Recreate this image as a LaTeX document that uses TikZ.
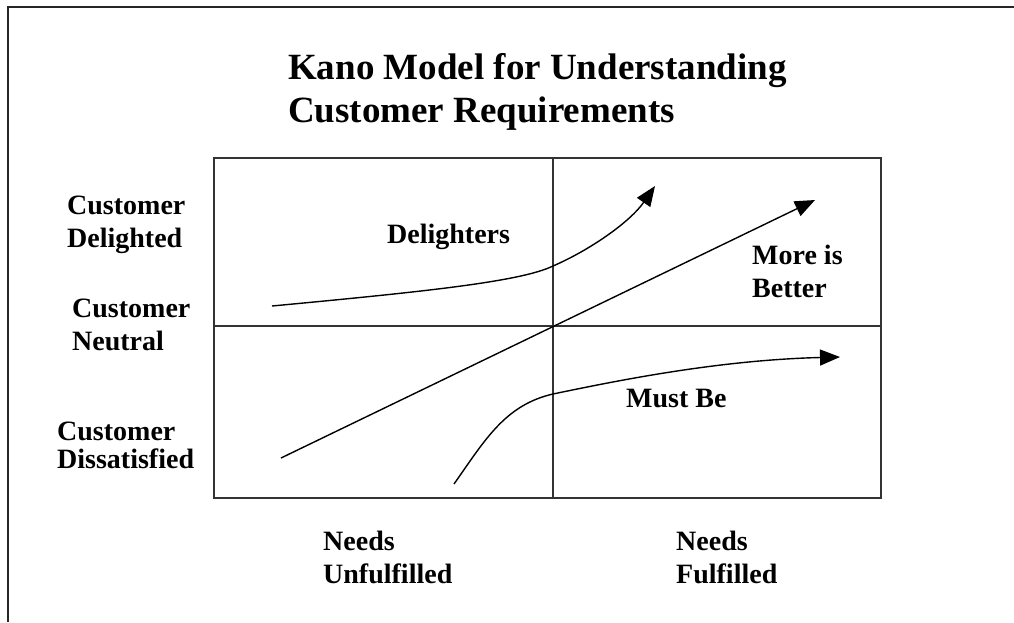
\documentclass[tikz,border=0pt]{standalone}
\usepackage{fontspec}
\setmainfont{Liberation Serif}
\usetikzlibrary{arrows.meta,positioning}

\begin{document}
\begin{tikzpicture}[
    x=1pt, y=-1pt,
    frame/.style={line width=2pt, black!85},
    quad/.style={line width=2pt, black!80},
    curve/.style={line width=1.4pt, -{Triangle[length=20pt,width=16pt]}},
    lbl/.style={anchor=base west, align=left, inner sep=0pt, font=\fontsize{28}{33}\selectfont\bfseries},
    heading/.style={anchor=base west, align=left, inner sep=0pt, font=\fontsize{37}{43}\selectfont\bfseries}
]
\useasboundingbox (0,0) rectangle (1014,622);

% outer frame, only its top and left edges are in view
\coordinate (tl) at (8,7);
\coordinate (tr) at (1014,7);
\coordinate (bl) at (8,622);
\draw[frame] (tr) -- (tl) -- (bl);

% title (node sits on the baseline of its last line)
\node[heading] (title) at (288,122) {Kano Model for Understanding\\Customer Requirements};

% quadrant box
\coordinate (sw) at (214,498);
\coordinate (ne) at (881,158);
\coordinate (origin) at (553,326);
\draw[quad] (sw) rectangle (ne);
\draw[quad] (sw -| origin) -- (ne -| origin);
\draw[quad] (sw |- origin) -- (ne |- origin);

% delighters curve
\coordinate (d0) at (272,306);
\coordinate (d1) at (553,266);
\coordinate (d2) at (655,186);
\draw[curve] (d0) .. controls (420,292) and (520,282) .. (d1) .. controls (590,250) and (630,222) .. (d2);

% more is better line
\coordinate (m0) at (281,458);
\coordinate (m1) at (815,200);
\draw[curve] (m0) -- (m1);

% must be curve
\coordinate (b0) at (454,484);
\coordinate (b1) at (553,394);
\coordinate (b2) at (840,357);
\draw[curve] (b0) .. controls (485,440) and (505,405) .. (b1) .. controls (620,380) and (720,360) .. (b2);

% axis labels
\node[lbl] (delighted) at (67,247) {Customer\\Delighted};
\node[lbl] (neutral) at (72,350) {Customer\\Neutral};
\node[lbl] (dissatisfied) at (57,468) {Customer\\[-5pt]Dissatisfied};
\node[lbl] (unfulfilled) at (323,583) {Needs\\Unfulfilled};
\node[lbl] (fulfilled) at (676,583) {Needs\\Fulfilled};

% curve labels
\node[lbl] (delighters) at (387,243) {Delighters};
\node[lbl] (better) at (752,297) {More is\\Better};
\node[lbl] (mustbe) at (626,407) {Must Be};
\end{tikzpicture}
\end{document}
